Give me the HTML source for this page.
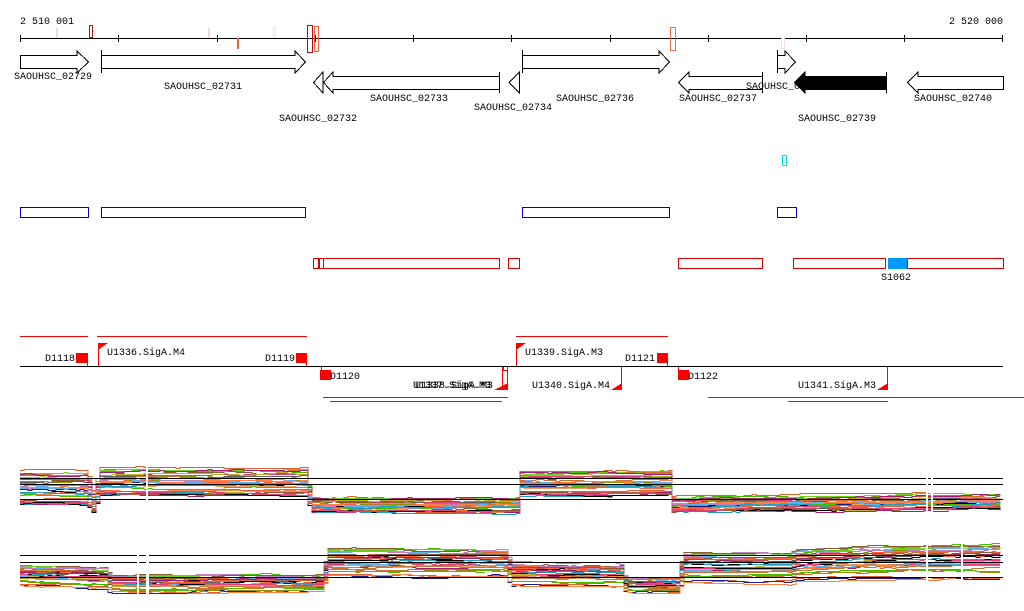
<!DOCTYPE html>
<html><head><meta charset="utf-8">
<style>
html,body{margin:0;padding:0;background:#fff;width:1024px;height:611px;overflow:hidden}
svg{position:absolute;left:0;top:0}
text{font-family:"Liberation Mono","DejaVu Sans Mono",monospace;font-size:10px;fill:#000}
</style></head><body>
<svg id="s" width="1024" height="611" viewBox="0 0 1024 611" shape-rendering="crispEdges">
<text x="20" y="24">2 510 001</text>
<text x="1003" y="24" text-anchor="end">2 520 000</text>
<line x1="20" y1="38.5" x2="1003" y2="38.5" stroke="#000"/>
<g stroke="#000">
<line x1="20.5" y1="35" x2="20.5" y2="42"/><line x1="118.5" y1="35" x2="118.5" y2="42"/><line x1="217.5" y1="35" x2="217.5" y2="42"/><line x1="315.5" y1="35" x2="315.5" y2="42"/><line x1="413.5" y1="35" x2="413.5" y2="42"/><line x1="511.5" y1="35" x2="511.5" y2="42"/><line x1="610.5" y1="35" x2="610.5" y2="42"/><line x1="708.5" y1="35" x2="708.5" y2="42"/><line x1="806.5" y1="35" x2="806.5" y2="42"/><line x1="904.5" y1="35" x2="904.5" y2="42"/><line x1="1002.5" y1="35" x2="1002.5" y2="42"/>
</g>
<rect x="56" y="28" width="2" height="10" fill="#f8d8c8"/>
<rect x="89.5" y="25.5" width="3" height="12" fill="none" stroke="#b01010"/>
<rect x="208" y="28" width="2" height="10" fill="#f8d8c8"/>
<rect x="237" y="38" width="2" height="11" fill="#f06040"/>
<rect x="273.5" y="27.5" width="2" height="10" fill="none" stroke="#f8e0d8"/>
<rect x="307.5" y="25.5" width="5" height="27" fill="none" stroke="#b01010"/>
<rect x="314.5" y="26.5" width="4" height="25" fill="none" stroke="#f06040"/>
<rect x="670.5" y="27.5" width="5" height="23" fill="none" stroke="#f07050"/>
<rect x="781.5" y="38.5" width="3" height="10" fill="none" stroke="#f8e0d8"/>
<g fill="#fff" stroke="#000">
<polygon points="20.5,55.5 77,55.5 77,51 88.5,62 77,73 77,68.5 20.5,68.5"/>
<polygon points="101.5,55.5 295,55.5 295,51 305.5,62 295,73 295,68.5 101.5,68.5"/>
<line x1="101.5" y1="50" x2="101.5" y2="73"/>
<polygon points="522.5,55.5 659,55.5 659,51 669.5,62 659,73 659,68.5 522.5,68.5"/>
<line x1="522.5" y1="50" x2="522.5" y2="73"/>
<polygon points="777.5,55.5 785,55.5 785,51 795.5,62 785,73 785,68.5 777.5,68.5"/>
<line x1="777.5" y1="50" x2="777.5" y2="73"/>
<polygon points="323,72 313.5,82.5 323,93"/>
<polygon points="499.5,76.5 333,76.5 333,72 323.5,82.5 333,93 333,89.5 499.5,89.5"/>
<line x1="499.5" y1="72" x2="499.5" y2="93"/>
<polygon points="519.5,72 509,82.5 519.5,93"/>
<polygon points="762.5,76.5 689,76.5 689,72 678.5,82.5 689,93 689,89.5 762.5,89.5"/>
<line x1="762.5" y1="72" x2="762.5" y2="93"/>
<polygon points="1003.5,76.5 918,76.5 918,72 907.5,82.5 918,93 918,89.5 1003.5,89.5"/>
</g>
<text x="14" y="79">SAOUHSC_02729</text>
<text x="164" y="89">SAOUHSC_02731</text>
<text x="279" y="121">SAOUHSC_02732</text>
<text x="370" y="101">SAOUHSC_02733</text>
<text x="474" y="110">SAOUHSC_02734</text>
<text x="556" y="101">SAOUHSC_02736</text>
<text x="679" y="101">SAOUHSC_02737</text>
<text x="746" y="89">SAOUHSC_02738</text>
<text x="798" y="121">SAOUHSC_02739</text>
<text x="914" y="101">SAOUHSC_02740</text>
<polygon points="886.5,76.5 805,76.5 805,72 794.5,82.5 805,93 805,89.5 886.5,89.5" fill="#000" stroke="#000"/>
<line x1="886.5" y1="72" x2="886.5" y2="93" stroke="#000"/>
<rect x="782.5" y="155.5" width="4" height="10" fill="none" stroke="#00e0e0"/>
<g fill="none" stroke="#0000d0">
<rect x="20.5" y="207.5" width="68" height="10"/><rect x="101.5" y="207.5" width="204" height="10"/><rect x="522.5" y="207.5" width="147" height="10"/><rect x="777.5" y="207.5" width="19" height="10"/>
</g>
<g fill="none" stroke="#e00000">
<rect x="313.5" y="258.5" width="5" height="10"/><rect x="319.5" y="258.5" width="4" height="10"/><rect x="323.5" y="258.5" width="176" height="10"/><rect x="508.5" y="258.5" width="11" height="10"/><rect x="678.5" y="258.5" width="84" height="10"/><rect x="793.5" y="258.5" width="92" height="10"/><rect x="907.5" y="258.5" width="96" height="10"/>
</g>
<rect x="888" y="258" width="19" height="11" fill="#0099ff"/>
<text x="881" y="280">S1062</text>
<g stroke="#f00" fill="none">
<line x1="20" y1="336.5" x2="88" y2="336.5"/><line x1="97" y1="336.5" x2="307" y2="336.5"/><line x1="516" y1="336.5" x2="668" y2="336.5"/>
<line x1="323" y1="397.5" x2="508" y2="397.5"/><line x1="330" y1="401.5" x2="502" y2="401.5"/>
<line x1="708" y1="397.5" x2="1024" y2="397.5"/><line x1="788" y1="401.5" x2="888" y2="401.5"/>
<line x1="87.5" y1="353" x2="87.5" y2="366"/><line x1="98.5" y1="343" x2="98.5" y2="366"/><line x1="306.5" y1="353" x2="306.5" y2="366"/>
<line x1="321.5" y1="366" x2="321.5" y2="376"/><line x1="502.5" y1="366" x2="502.5" y2="390"/><line x1="507.5" y1="366" x2="507.5" y2="390"/>
<rect x="503.5" y="366.5" width="4" height="4"/>
<line x1="516.5" y1="343" x2="516.5" y2="366"/><line x1="667.5" y1="353" x2="667.5" y2="366"/><line x1="678.5" y1="366" x2="678.5" y2="376"/>
<line x1="621.5" y1="366" x2="621.5" y2="390"/><line x1="887.5" y1="366" x2="887.5" y2="390"/>
</g>
<g fill="#f00">
<rect x="76" y="353" width="11" height="10"/><rect x="296" y="353" width="11" height="10"/><rect x="320" y="370" width="11" height="10"/><rect x="657" y="353" width="11" height="10"/><rect x="678" y="370" width="11" height="10"/>
<polygon points="98,343 108,343 98,350"/><polygon points="516,343 526,343 516,350"/>
<polygon points="508,383 508,390 494,390"/><polygon points="622,383 622,390 611,390"/><polygon points="888,383 888,390 877,390"/>
</g>
<line x1="20" y1="366.5" x2="1003" y2="366.5" stroke="#000"/>
<text x="45" y="361">D1118</text><text x="107" y="355">U1336.SigA.M4</text><text x="265" y="361">D1119</text>
<text x="330" y="379">D1120</text><text x="413" y="388">U1337.SigA.M3</text><text x="415" y="388">U1338.SigA.M3</text>
<text x="525" y="355">U1339.SigA.M3</text><text x="625" y="361">D1121</text><text x="688" y="379">D1122</text>
<text x="532" y="388">U1340.SigA.M4</text><text x="798" y="388">U1341.SigA.M3</text>
<g id="w"></g>
<g stroke="#000" fill="none">
<line x1="20" y1="478.5" x2="1003" y2="478.5"/><line x1="20" y1="484.5" x2="1003" y2="484.5"/><line x1="20" y1="499.5" x2="1003" y2="499.5"/>
<line x1="20" y1="555.5" x2="1003" y2="555.5"/><line x1="20" y1="562.5" x2="1003" y2="562.5"/><line x1="20" y1="577.5" x2="1003" y2="577.5"/>
</g>
<g fill="#fff">
<rect x="146" y="462" width="2" height="55"/><rect x="926" y="462" width="2" height="55"/><rect x="931" y="462" width="2" height="55"/>
<rect x="137" y="540" width="2" height="55"/><rect x="146" y="540" width="3" height="55"/><rect x="926" y="540" width="2" height="55"/><rect x="961" y="540" width="2" height="55"/>
</g>
</svg>
<script>
(function(){
var g=document.getElementById('w');
var pal=['#e06030','#c0b030','#909000','#ff6040','#40c000','#a02070','#c080c0','#60b0f0','#d07030','#000000','#8a5a30','#ff8040','#20a0c0','#e04080','#b08060','#70d020','#202080','#f0a060','#c05050','#606060'];
var top=[[20,470,505],[86,470,505],[92,490,512],[100,467,495],[305,467,495],[310,497,512],[518,497,512],[520,470,495],[668,470,495],[672,497,511],[1003,494,508]];
var bot=[[20,565,585],[105,567,588],[110,575,592],[320,575,592],[328,549,576],[505,549,576],[510,562,586],[620,563,586],[625,577,592],[676,577,592],[682,552,582],[790,552,582],[795,549,580],[870,546,578],[1003,544,578]];
function interp(p,x){for(var i=0;i<p.length-1;i++){if(x>=p[i][0]&&x<=p[i+1][0]){var t=(x-p[i][0])/(p[i+1][0]-p[i][0]);return [p[i][1]+t*(p[i+1][1]-p[i][1]),p[i][2]+t*(p[i+1][2]-p[i][2])];}}return [p[p.length-1][1],p[p.length-1][2]];}
var seed=7;function r(){seed=(seed*16807)%2147483647;return seed/2147483647;}
function draw(p){for(var k=0;k<34;k++){var f=r();var n=0;var pts=[];var py=null;for(var x=20;x<=1003;x+=4){if(r()<0.3){n+=(r()-0.5)*2.5;n*=0.85;}var b=interp(p,x);var y=Math.round(b[0]+f*(b[1]-b[0])+n)+0.5;if(py!==null)pts.push(x+','+py);pts.push(x+','+y);py=y;}
var pl=document.createElementNS('http://www.w3.org/2000/svg','polyline');pl.setAttribute('points',pts.join(' '));pl.setAttribute('fill','none');pl.setAttribute('stroke',pal[k%pal.length]);pl.setAttribute('stroke-width','1');g.appendChild(pl);}}
draw(top);draw(bot);
})();
</script>
</body></html>
